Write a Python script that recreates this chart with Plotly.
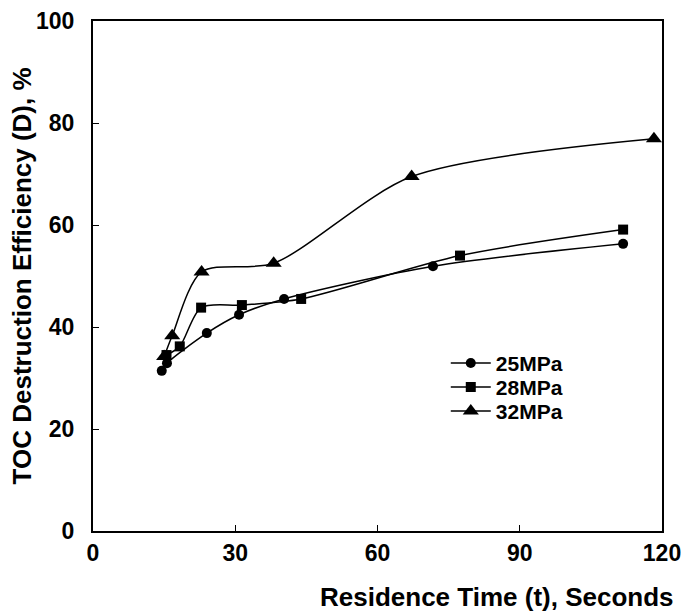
import plotly.graph_objects as go

# Data
t_25 = [14.5, 15.6, 24.0, 30.8, 40.3, 71.7, 111.8]
d_25 = [31.4, 32.9, 38.8, 42.4, 45.5, 51.9, 56.3]

t_28 = [15.5, 18.3, 22.8, 31.4, 43.9, 77.4, 111.8]
d_28 = [34.5, 36.2, 43.8, 44.3, 45.5, 54.0, 59.1]

t_32 = [15.0, 16.7, 22.9, 38.1, 67.2, 118.3]
d_32 = [34.2, 38.3, 50.8, 52.5, 69.5, 76.9]

series_names = ["25MPa", "28MPa", "32MPa"]
x_ticks = [0, 30, 60, 90, 120]
y_ticks = [0, 20, 40, 60, 80, 100]

FONT = "Liberation Sans, Arial, sans-serif"

fig = go.Figure()
specs = [
    (t_25, d_25, series_names[0], "circle", 10, "legend", 0.369),
    (t_28, d_28, series_names[1], "square", 10, "legend2", 0.322),
    (t_32, d_32, series_names[2], "triangle-up", 14, "legend3", 0.275),
]
legend_layout = {}
for xs, ys, name, sym, sz, lg, ly in specs:
    fig.add_trace(go.Scatter(
        x=xs, y=ys, name=name, mode="lines+markers", legend=lg,
        line=dict(color="black", width=1.5, shape="spline", smoothing=0.8),
        marker=dict(symbol=sym, size=sz, color="black"),
    ))
    legend_layout[lg] = dict(
        x=0.62, y=ly, xanchor="left", yanchor="top",
        bgcolor="rgba(0,0,0,0)", borderwidth=0,
        font=dict(family=FONT, size=21, color="black", weight="bold"),
        itemwidth=40,
    )

axis_common = dict(
    showline=True, linecolor="black", linewidth=2, mirror=True,
    ticks="inside", ticklen=6, tickwidth=1, tickcolor="black",
    showgrid=False, zeroline=False, automargin=False,
    tickfont=dict(family=FONT, size=23, color="black", weight="bold"),
)

fig.update_xaxes(range=[0, 120], tickvals=x_ticks, ticklabelstandoff=0, **axis_common)
fig.update_yaxes(range=[0, 100], tickvals=y_ticks, ticklabelstandoff=12, **axis_common)

fig.add_annotation(
    text="<b>Residence Time (t), Seconds</b>", xref="paper", yref="paper",
    x=0.71, y=-0.13, xanchor="center", yanchor="middle", showarrow=False,
    font=dict(family=FONT, size=26, color="black"),
)
fig.add_annotation(
    text="<b>TOC Destruction Efficiency (D), %</b>", xref="paper", yref="paper",
    x=-0.124, y=0.5, xanchor="center", yanchor="middle", showarrow=False,
    textangle=-90, font=dict(family=FONT, size=26, color="black"),
)

fig.update_layout(
    width=684, height=611,
    margin=dict(l=93, r=22, t=21, b=80, autoexpand=False),
    paper_bgcolor="white", plot_bgcolor="white",
    showlegend=True,
    **legend_layout,
)

fig.write_html(
    "out.html",
    config={"displayModeBar": False},
    post_script="document.body.style.margin='0px';document.body.style.overflow='hidden';",
)
